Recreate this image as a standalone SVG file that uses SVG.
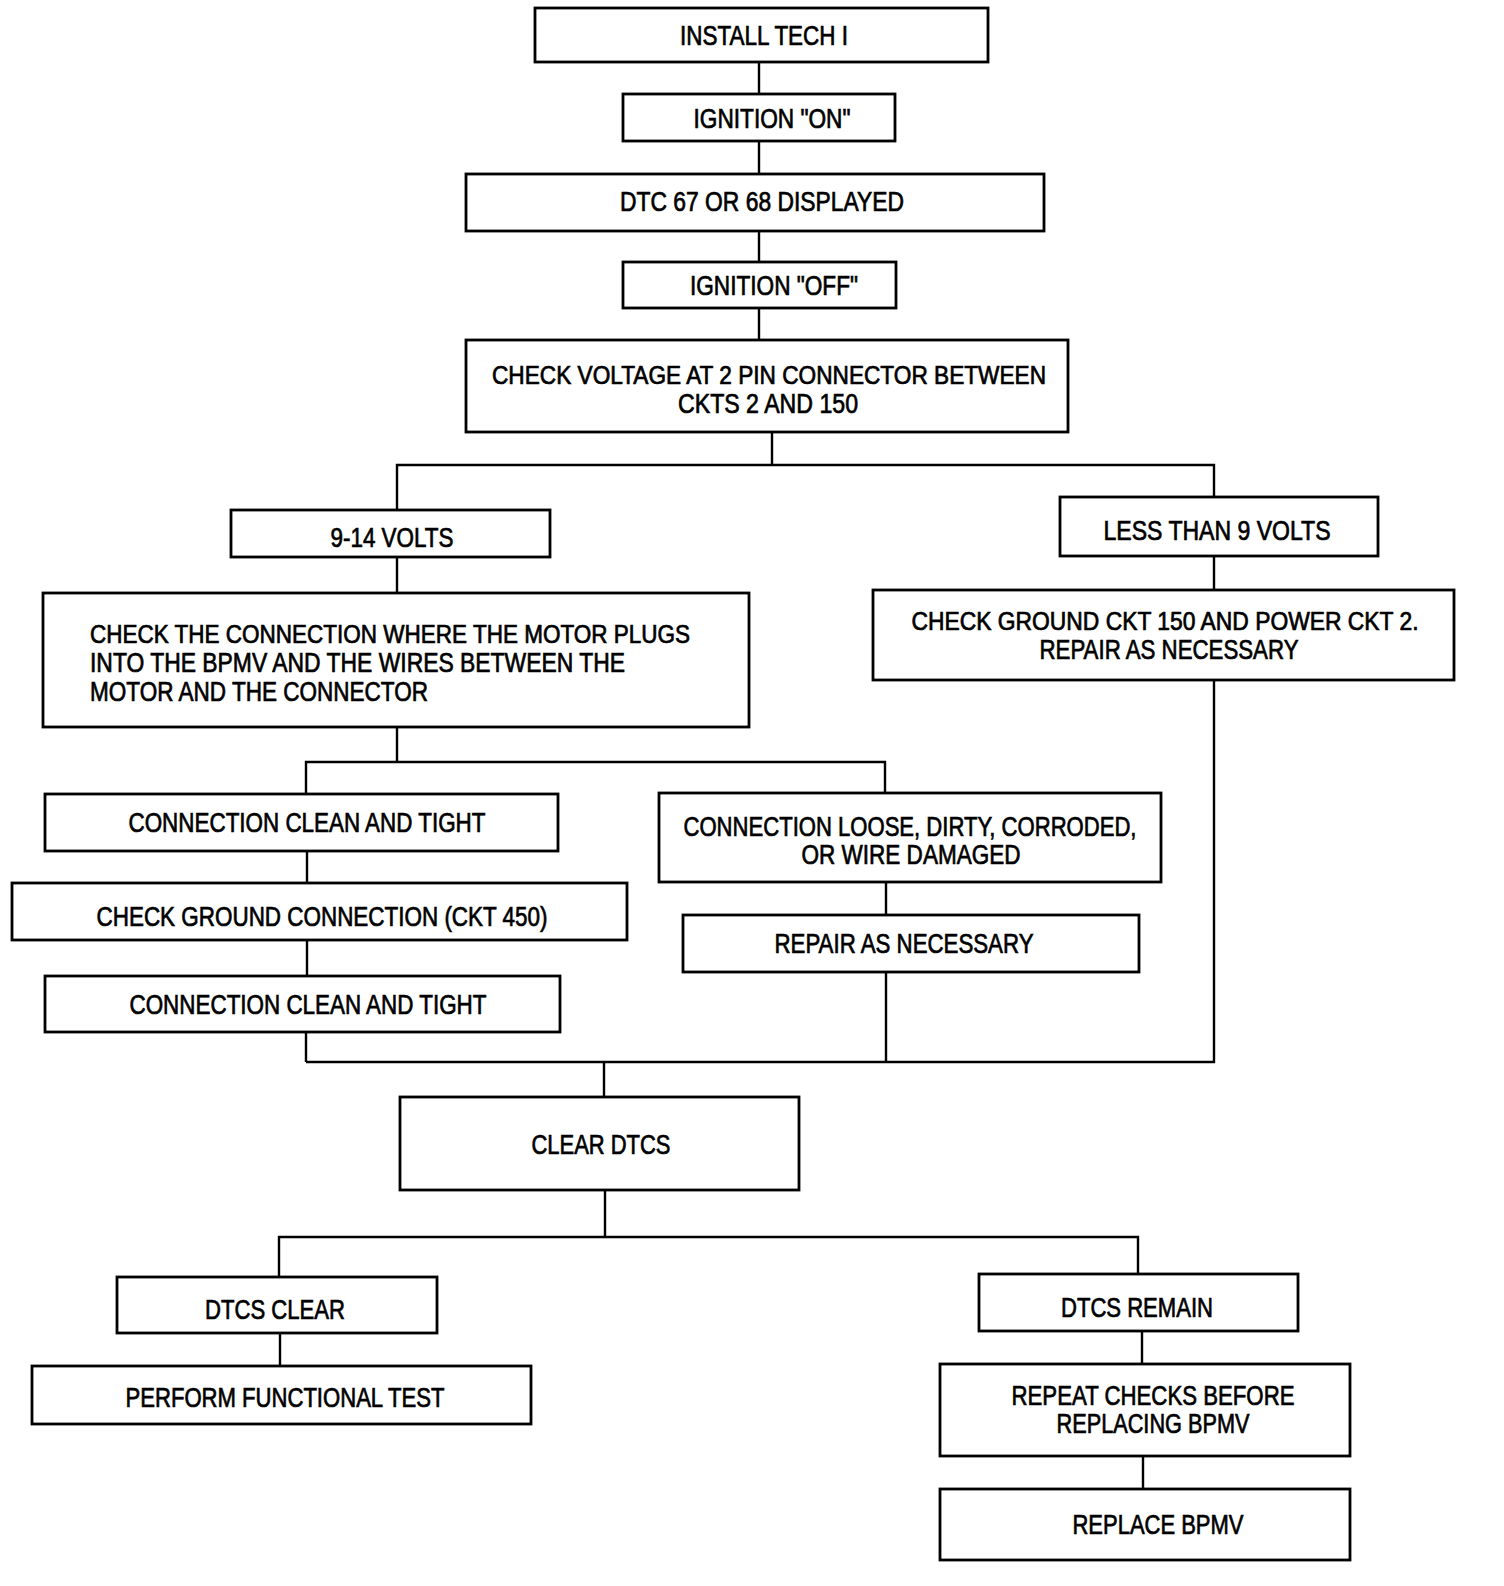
<svg xmlns="http://www.w3.org/2000/svg" width="1504" height="1586" viewBox="0 0 1504 1586">
<style>
.box{fill:#fff;stroke:#000;stroke-width:2.8}
.wire{fill:none;stroke:#000;stroke-width:2.4}
text{font-family:"Liberation Sans",Arial,sans-serif;font-size:27px;fill:#000;stroke:#000;stroke-width:0.7;text-anchor:middle}
.l{text-anchor:start}
.s{font-size:25px}
</style>
<rect width="1504" height="1586" fill="#fff"/>
<g id="connectors">
<path class="wire" d="M759 62V94M759 141V174M759 231V262M759 308V340"/>
<path class="wire" d="M772 432V465M397 510V465H1214V497"/>
<path class="wire" d="M1214 556V590M1214 680V1062H306"/>
<path class="wire" d="M397 557V593M397 727V762M306 794V762H885V793"/>
<path class="wire" d="M307 851V883M307 940V976M306 1032V1062"/>
<path class="wire" d="M886 882V915M886 972V1062"/>
<path class="wire" d="M604 1062V1097M605 1190V1237M279 1277V1237H1138V1274"/>
<path class="wire" d="M280 1333V1366M1142 1331V1364M1143 1456V1489"/>
</g>
<g id="n1"><rect class="box" x="535" y="8" width="453" height="54"/><text x="764" y="45" textLength="168" lengthAdjust="spacingAndGlyphs">INSTALL TECH I</text></g>
<g id="n2"><rect class="box" x="623" y="94" width="272" height="47"/><text x="772" y="128" textLength="157" lengthAdjust="spacingAndGlyphs">IGNITION "ON"</text></g>
<g id="n3"><rect class="box" x="466" y="174" width="578" height="57"/><text x="762" y="211" textLength="284" lengthAdjust="spacingAndGlyphs">DTC 67 OR 68 DISPLAYED</text></g>
<g id="n4"><rect class="box" x="623" y="262" width="273" height="46"/><text x="774" y="295" textLength="168" lengthAdjust="spacingAndGlyphs">IGNITION "OFF"</text></g>
<g id="n5"><rect class="box" x="466" y="340" width="602" height="92"/><text class="s" x="769" y="384" textLength="554" lengthAdjust="spacingAndGlyphs">CHECK VOLTAGE AT 2 PIN CONNECTOR BETWEEN</text><text x="768" y="413" textLength="180" lengthAdjust="spacingAndGlyphs">CKTS 2 AND 150</text></g>
<g id="n6"><rect class="box" x="231" y="510" width="319" height="47"/><text x="392" y="547" textLength="123" lengthAdjust="spacingAndGlyphs">9-14 VOLTS</text></g>
<g id="n7"><rect class="box" x="1060" y="497" width="318" height="59"/><text x="1217" y="540" textLength="227" lengthAdjust="spacingAndGlyphs">LESS THAN 9 VOLTS</text></g>
<g id="n8"><rect class="box" x="873" y="590" width="581" height="90"/><text class="s" x="1165" y="630" textLength="507" lengthAdjust="spacingAndGlyphs">CHECK GROUND CKT 150 AND POWER CKT 2.</text><text x="1169" y="659" textLength="259" lengthAdjust="spacingAndGlyphs">REPAIR AS NECESSARY</text></g>
<g id="n9"><rect class="box" x="43" y="593" width="706" height="134"/><text class="l s" x="90" y="643" textLength="600" lengthAdjust="spacingAndGlyphs">CHECK THE CONNECTION WHERE THE MOTOR PLUGS</text><text class="l" x="90" y="672" textLength="535" lengthAdjust="spacingAndGlyphs">INTO THE BPMV AND THE WIRES BETWEEN THE</text><text class="l" x="90" y="701" textLength="338" lengthAdjust="spacingAndGlyphs">MOTOR AND THE CONNECTOR</text></g>
<g id="n10"><rect class="box" x="45" y="794" width="513" height="57"/><text x="307" y="832" textLength="357" lengthAdjust="spacingAndGlyphs">CONNECTION CLEAN AND TIGHT</text></g>
<g id="n11"><rect class="box" x="659" y="793" width="502" height="89"/><text x="910" y="836" textLength="453" lengthAdjust="spacingAndGlyphs">CONNECTION LOOSE, DIRTY, CORRODED,</text><text x="911" y="864" textLength="219" lengthAdjust="spacingAndGlyphs">OR WIRE DAMAGED</text></g>
<g id="n12"><rect class="box" x="12" y="883" width="615" height="57"/><text x="322" y="926" textLength="451" lengthAdjust="spacingAndGlyphs">CHECK GROUND CONNECTION (CKT 450)</text></g>
<g id="n13"><rect class="box" x="683" y="915" width="456" height="57"/><text x="904" y="953" textLength="259" lengthAdjust="spacingAndGlyphs">REPAIR AS NECESSARY</text></g>
<g id="n14"><rect class="box" x="45" y="976" width="515" height="56"/><text x="308" y="1014" textLength="357" lengthAdjust="spacingAndGlyphs">CONNECTION CLEAN AND TIGHT</text></g>
<g id="n15"><rect class="box" x="400" y="1097" width="399" height="93"/><text x="601" y="1154" textLength="139" lengthAdjust="spacingAndGlyphs">CLEAR DTCS</text></g>
<g id="n16"><rect class="box" x="117" y="1277" width="320" height="56"/><text x="275" y="1319" textLength="140" lengthAdjust="spacingAndGlyphs">DTCS CLEAR</text></g>
<g id="n17"><rect class="box" x="979" y="1274" width="319" height="57"/><text x="1137" y="1317" textLength="152" lengthAdjust="spacingAndGlyphs">DTCS REMAIN</text></g>
<g id="n18"><rect class="box" x="32" y="1366" width="499" height="58"/><text x="285" y="1407" textLength="319" lengthAdjust="spacingAndGlyphs">PERFORM FUNCTIONAL TEST</text></g>
<g id="n19"><rect class="box" x="940" y="1364" width="410" height="92"/><text x="1153" y="1405" textLength="283" lengthAdjust="spacingAndGlyphs">REPEAT CHECKS BEFORE</text><text x="1153" y="1433" textLength="193" lengthAdjust="spacingAndGlyphs">REPLACING BPMV</text></g>
<g id="n20"><rect class="box" x="940" y="1489" width="410" height="71"/><text x="1158" y="1534" textLength="171" lengthAdjust="spacingAndGlyphs">REPLACE BPMV</text></g>
</svg>
